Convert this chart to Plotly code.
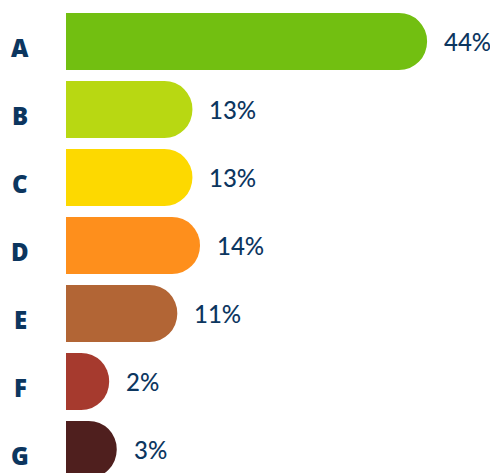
import plotly.graph_objects as go

categories = ["A", "B", "C", "D", "E", "F", "G"]
values = [44, 13, 13, 14, 11, 2, 3]
labels = ["44%", "13%", "13%", "14%", "11%", "2%", "3%"]
colors = ["#72bf11", "#b8d812", "#fdd900", "#fe8f1c", "#b26535", "#a63a2e", "#4f1f1e"]

TEXT = "#0c365f"
CAP = 3.7  # rounded cap length in data units

fig = go.Figure()
fig.add_trace(go.Bar(
    y=categories,
    x=[v + CAP for v in values],
    orientation="h",
    marker=dict(color=colors, cornerradius="50%", line=dict(width=0)),
    width=0.84,
    hoverinfo="skip",
))

for c, v, lab in zip(categories, values, labels):
    fig.add_annotation(x=v + CAP, y=c, xref="x", yref="y", text=lab,
                       showarrow=False, xanchor="left", xshift=15,
                       font=dict(family="Lato", size=24, color=TEXT, weight=500))
    fig.add_annotation(x=0, y=c, xref="paper", yref="y", text=c,
                       showarrow=False, xanchor="center", xshift=-46, yshift=-6,
                       font=dict(family="Open Sans", size=24, color=TEXT, weight=800))

fig.update_layout(
    width=490, height=465,
    margin=dict(l=58, r=0, t=0, b=0),
    paper_bgcolor="white", plot_bgcolor="white",
    showlegend=False,
    xaxis=dict(range=[0, 57.07], visible=False, fixedrange=True),
    yaxis=dict(type="category", categoryorder="array", categoryarray=categories,
               range=[6.346, -0.4926], visible=False),
)

fig.write_html("out.html")
